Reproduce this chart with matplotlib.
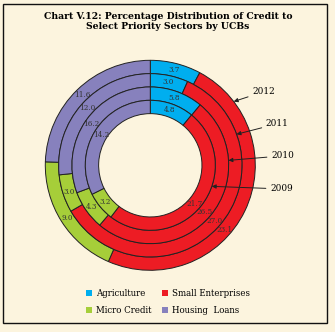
import numpy as np
import matplotlib.pyplot as plt
from matplotlib.patches import Patch, Rectangle

# --- Dados (percentagens por ano, anel externo = 2012) ---
years = ['2012', '2011', '2010', '2009']
sectors = ['Agriculture', 'Small Enterprises', 'Micro Credit', 'Housing  Loans']
agriculture = [3.7, 3.0, 5.8, 4.8]
small_ent = [23.1, 27.0, 26.5, 21.7]
micro_credit = [9.0, 3.0, 4.3, 3.2]
housing = [11.6, 12.0, 16.2, 14.2]

colors = ['#00AEEF', '#ED1C24', '#A6CE39', '#8781BD']
bg = '#FCF4DE'

W, H = 335, 332
fig = plt.figure(figsize=(W / 100, H / 100), dpi=100, facecolor=bg)

# eixo quadrado centrado no donut
cx, cy, R = 150.3, 165.3, 105.0
half = 115.0
ax = fig.add_axes([(cx - half) / W, (H - cy - half) / H, 2 * half / W, 2 * half / H])

width = 0.127
se_label_angle = 131  # rótulos de Small Enterprises ficam numa diagonal
ring_data = list(zip(agriculture, small_ent, micro_credit, housing))
for i, vals in enumerate(ring_data):
    r = 1.0 - i * width
    wedges, _ = ax.pie(vals, radius=r, colors=colors, startangle=90, counterclock=False,
                       wedgeprops=dict(width=width, edgecolor='#222222', linewidth=0.7))
    rm = r - width / 2
    for k, (w, v) in enumerate(zip(wedges, vals)):
        if k == 1:
            ang = np.deg2rad(90 - se_label_angle)
        else:
            ang = np.deg2rad((w.theta1 + w.theta2) / 2)
        ax.text(rm * np.cos(ang), rm * np.sin(ang), f'{v:.1f}', ha='center', va='center',
                fontsize=5.2, family='DejaVu Serif', color='#333333')

# pie() redefine os limites, então ajusta depois
ax.set_xlim(-half / R, half / R)
ax.set_ylim(-half / R, half / R)
ax.set_aspect('equal')
ax.axis('off')

# --- Rótulos dos anos com setas ---
arrow_angles = [52.6, 70.2, 86.4, 108.9]  # graus, sentido horário a partir do topo
text_pos = [(0.97, 0.70), (1.10, 0.395), (1.15, 0.09), (1.14, -0.225)]
for i, (yr, a, tp) in enumerate(zip(years, arrow_angles, text_pos)):
    r = 1.0 - i * width
    t = np.deg2rad(90 - a)
    ax.annotate(yr, xy=(r * np.cos(t), r * np.sin(t)), xytext=tp,
                fontsize=6.4, family='DejaVu Serif', va='center', ha='left',
                annotation_clip=False,
                arrowprops=dict(arrowstyle='-|>', color='#222222', lw=0.7,
                                mutation_scale=6, shrinkA=1, shrinkB=0))

# --- Título ---
fig.text(168 / W, 1 - 21.8 / H,
         'Chart V.12: Percentage Distribution of Credit to\nSelect Priority Sectors by UCBs',
         ha='center', va='center', fontsize=6.7, fontweight='bold', family='DejaVu Serif',
         linespacing=1.15)

# --- Legenda ---
order = [0, 2, 1, 3]
handles = [Patch(facecolor=colors[k], edgecolor='none') for k in order]
labels = [sectors[k] for k in order]
fig.legend(handles, labels, ncol=2, loc='center', bbox_to_anchor=(168 / W, 1 - 302 / H),
           frameon=False, prop={'family': 'DejaVu Serif', 'size': 6.2},
           handlelength=0.7, handleheight=0.7, handletextpad=0.5,
           columnspacing=1.2, labelspacing=0.9)

# moldura
fig.patches.append(Rectangle((3 / W, 1 - 323 / H), 324 / W, 319 / H,
                             transform=fig.transFigure, fill=False,
                             edgecolor='#111111', linewidth=1.0))

fig.savefig('out.png', dpi=100, facecolor=bg)
